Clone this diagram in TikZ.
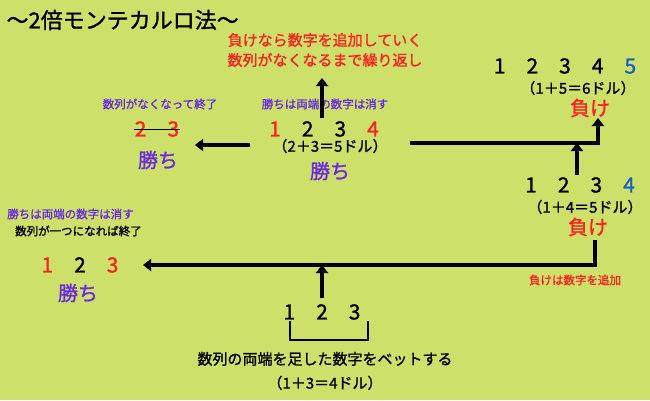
\documentclass[tikz,border=0pt]{standalone}
\usepackage{fontspec}
\setmainfont[AutoFakeBold=1.2]{Noto Sans CJK JP}
\usetikzlibrary{arrows.meta}
\definecolor{bg}{HTML}{CCE06A}
\definecolor{lose}{HTML}{FF2020}
\definecolor{win}{HTML}{6A2BE0}
\definecolor{nxt}{HTML}{1A5FBF}
\tikzset{
    flow/.style={line width=4pt, -{Triangle[length=8pt,width=12pt]}},
    flat/.style={line width=4pt},
    num/.style={font=\bfseries\fontsize{21}{23}\selectfont, inner sep=1pt},
    bet/.style={font=\bfseries\fontsize{15}{17}\selectfont, inner sep=1pt},
    res/.style={font=\bfseries\fontsize{20}{22}\selectfont, inner sep=1pt},
    note/.style={font=\bfseries\fontsize{11.5}{13}\selectfont, inner sep=1pt}
}
\begin{document}
\begin{tikzpicture}[x=1pt,y=-1pt]
    \fill[bg] (0,0) rectangle (650,400);
    \useasboundingbox (0,0) rectangle (650,400);

    % Title
    \node[anchor=west, font=\bfseries\fontsize{22}{24}\selectfont] (title) at (3,20) {〜2倍モンテカルロ法〜};

    % Top note
    \node[text=lose, align=center, font=\bfseries\fontsize{15}{20}\selectfont] (repeat) at (325,50) {負けなら数字を追加していく\\数列がなくなるまで繰り返し};

    % Middle row
    \node[note, text=win] (endnote) at (160,104) {数列がなくなって終了};
    \node[note, text=win] (winrule) at (325,104) {勝ちは両端の数字は消す};
    \node[num] (last) at (157,129) {\textcolor{lose}{2}\quad\textcolor{lose}{3}};
    \draw (last.west) -- (last.east);
    \node[res, text=win] (lastwin) at (158,160) {勝ち};
    \node[num] (seq4b) at (324,129) {\textcolor{lose}{1}\quad 2\quad 3\quad\textcolor{lose}{4}};
    \node[bet] (bet4b) at (330,146) {（2＋3＝5ドル）};
    \node[res, text=win] (win4b) at (330,171) {勝ち};
    \coordinate (mid) at (195,145);
    \coordinate (top) at (322,78);

    % Right column
    \node[num] (seq5) at (565,66) {1\quad 2\quad 3\quad 4\quad\textcolor{nxt}{5}};
    \node[bet] (bet5) at (578,88) {（1＋5＝6ドル）};
    \node[res, text=lose] (lose5) at (590,108) {負け};
    \node[num] (seq4) at (580,185) {1\quad 2\quad 3\quad\textcolor{nxt}{4}};
    \node[bet] (bet4) at (585,207) {（1＋4＝5ドル）};
    \node[res, text=lose] (lose4) at (588,227) {負け};
    \node[note, text=lose] (addnote) at (575,280) {負けは数字を追加};

    % Left block
    \node[note, text=win, anchor=west] (winrule2) at (6,214) {勝ちは両端の数字は消す};
    \node[note, anchor=west] (endnote2) at (14,231) {数列が一つになれば終了};
    \node[num] (seq3) at (80,265) {\textcolor{lose}{1}\quad 2\quad\textcolor{lose}{3}};
    \node[res, text=win] (win3) at (78,293) {勝ち};
    \coordinate (left) at (143,265);

    % Bottom
    \node[num] (start) at (322,312) {1\quad 2\quad 3};
    \node[align=center, font=\bfseries\fontsize{15}{24}\selectfont] (rule) at (325,371) {数列の両端を足した数字をベットする\\（1＋3＝4ドル）};

    % Arrows
    \draw[flow] (322,118) -- (top);
    \draw[flow] (250,145) -- (mid);
    \draw[flat] (410,143) -| (598,135);
    \draw[flow] (598,144) -- (598,118);
    \draw[flow] (577,175) -- (577,143);
    \draw[flat] (595,240) |- (300,265);
    \draw[flow] (300,265) -- (left);
    \draw[flow] (322,298) -- (322,265);
    \draw[line width=2pt] (290,321) -- (290,340) -- (368,340) -- (368,321);
\end{tikzpicture}
\end{document}
